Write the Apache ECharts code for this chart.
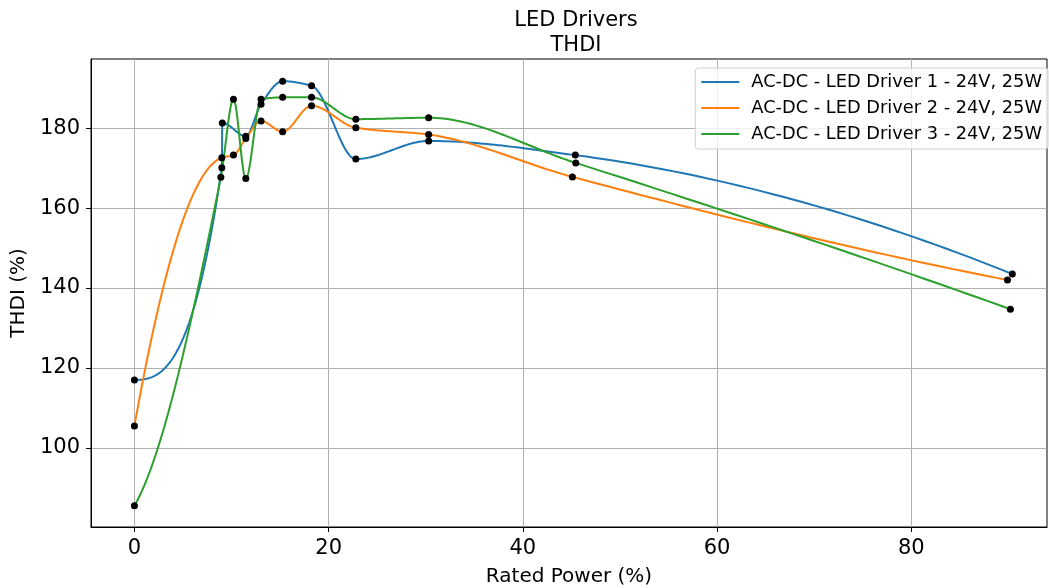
<!DOCTYPE html>
<html>
<head>
<meta charset="utf-8">
<script src="https://cdn.jsdelivr.net/npm/echarts@6/dist/echarts.min.js"></script>
<style>
  html, body { margin: 0; padding: 0; background: #fff; }
  #chart { width: 1049px; height: 588px; }
</style>
</head>
<body>
<div id="chart"></div>
<script>
// Series names
const seriesNames = [
  'AC-DC - LED Driver 1 - 24V, 25W',
  'AC-DC - LED Driver 2 - 24V, 25W',
  'AC-DC - LED Driver 3 - 24V, 25W'
];

// Rated power (%) for each measurement, per driver
const powerDriver1 = [0, 9.0, 9.05, 11.47, 13.04, 15.26, 18.24, 22.8, 30.3, 45.4, 90.4];
const powerDriver2 = [0, 9.0, 10.2, 11.47, 13.04, 15.26, 18.24, 22.8, 30.3, 45.1, 89.9];
const powerDriver3 = [0, 8.9, 10.2, 11.47, 13.04, 15.26, 18.24, 22.8, 30.3, 45.45, 90.2];

// THDI (%) measured at each point
const thdiDriver1 = [117, 170.1, 181.3, 178.0, 186.0, 191.75, 190.6, 172.25, 176.8, 173.25, 143.5];
const thdiDriver2 = [105.5, 172.6, 173.25, 177.4, 181.8, 179.1, 185.6, 180.1, 178.4, 167.8, 142.0];
const thdiDriver3 = [85.5, 167.7, 187.2, 167.4, 187.2, 187.7, 187.7, 182.25, 182.6, 171.3, 134.7];

// Tick labels
const xTicks = [0, 20, 40, 60, 80];
const yTicks = [100, 120, 140, 160, 180];

const colors = ['#1f77b4', '#ff7f0e', '#2ca02c'];
const powers = [powerDriver1, powerDriver2, powerDriver3];
const thdis = [thdiDriver1, thdiDriver2, thdiDriver3];

const pairs = (xs, ys) => xs.map((x, i) => [x, ys[i]]);

const FONT = 'DejaVu Sans';

// Monotone piecewise cubic Hermite (PCHIP) slopes
function pchipSlopes(x, y) {
  const n = x.length;
  const h = [], m = [];
  for (let i = 0; i < n - 1; i++) {
    h.push(x[i + 1] - x[i]);
    m.push((y[i + 1] - y[i]) / h[i]);
  }
  const d = new Array(n).fill(0);
  for (let k = 1; k < n - 1; k++) {
    const m0 = m[k - 1], m1 = m[k];
    if (m0 === 0 || m1 === 0 || Math.sign(m0) !== Math.sign(m1)) {
      d[k] = 0;
    } else {
      const w1 = 2 * h[k] + h[k - 1];
      const w2 = h[k] + 2 * h[k - 1];
      d[k] = (w1 + w2) / (w1 / m0 + w2 / m1);
    }
  }
  const edge = (h0, h1, m0, m1) => {
    let e = ((2 * h0 + h1) * m0 - h0 * m1) / (h0 + h1);
    if (Math.sign(e) !== Math.sign(m0)) e = 0;
    else if (Math.sign(m0) !== Math.sign(m1) && Math.abs(e) > 3 * Math.abs(m0)) e = 3 * m0;
    return e;
  };
  d[0] = edge(h[0], h[1], m[0], m[1]);
  d[n - 1] = edge(h[n - 2], h[n - 3], m[n - 2], m[n - 3]);
  return d;
}

function hermite(x, y, d, i, s) {
  const h = x[i + 1] - x[i];
  const t = (s - x[i]) / h;
  const t2 = t * t, t3 = t2 * t;
  return (2 * t3 - 3 * t2 + 1) * y[i] + (t3 - 2 * t2 + t) * h * d[i] +
    (-2 * t3 + 3 * t2) * y[i + 1] + (t3 - t2) * h * d[i + 1];
}

const slopes = powers.map((xs, i) => pchipSlopes(xs, thdis[i]));

// Draws the curve segment that starts at each measurement
function makeRenderer(idx) {
  const xs = powers[idx], ys = thdis[idx], d = slopes[idx];
  return function (params, api) {
    const i = params.dataIndex;
    if (i >= xs.length - 1) return null;
    const pts = [];
    const steps = 40;
    for (let k = 0; k <= steps; k++) {
      const s = xs[i] + (xs[i + 1] - xs[i]) * k / steps;
      pts.push(api.coord([s, hermite(xs, ys, d, i, s)]));
    }
    return {
      type: 'polyline',
      shape: { points: pts },
      style: { stroke: colors[idx], lineWidth: 2, fill: null, lineJoin: 'round', lineCap: 'round' }
    };
  };
}

const curveSeries = seriesNames.map((name, i) => ({
  name: name,
  type: 'custom',
  data: pairs(powers[i], thdis[i]),
  encode: { x: 0, y: 1 },
  renderItem: makeRenderer(i),
  itemStyle: { color: colors[i] },
  clip: true,
  z: 2,
  silent: true
}));

const dotSeries = seriesNames.map((name, i) => ({
  name: name + ' points',
  type: 'scatter',
  data: pairs(powers[i], thdis[i]),
  symbol: 'circle',
  symbolSize: 7,
  itemStyle: { color: '#000', opacity: 1 },
  z: 5,
  silent: true
}));

const chart = echarts.init(document.getElementById('chart'), null, { renderer: 'canvas' });

chart.setOption({
  animation: false,
  backgroundColor: '#fff',
  title: {
    text: 'LED Drivers\nTHDI',
    left: 571,
    top: 3,
    textAlign: 'center',
    textStyle: {
      fontFamily: FONT,
      fontSize: 21,
      fontWeight: 'normal',
      color: '#000',
      lineHeight: 25
    }
  },
  legend: {
    data: seriesNames,
    orient: 'vertical',
    right: 1,
    top: 68,
    icon: 'rect',
    itemWidth: 38,
    itemHeight: 2,
    itemGap: 6,
    padding: [4, 6, 5, 6],
    borderColor: '#d0d0d0',
    borderWidth: 1,
    borderRadius: 3,
    backgroundColor: 'rgba(255,255,255,0.8)',
    textStyle: {
      fontFamily: FONT,
      fontSize: 17.8,
      color: '#000',
      lineHeight: 20,
      padding: [0, 0, 0, 7]
    }
  },
  grid: {
    left: 91,
    right: 2,
    top: 59,
    bottom: 61,
    show: true,
    borderColor: '#000',
    borderWidth: 1,
    containLabel: false,
    outerBoundsMode: 'none'
  },
  xAxis: {
    type: 'value',
    min: -4.47,
    max: 93.97,
    name: 'Rated Power (%)',
    nameLocation: 'middle',
    nameGap: 40,
    nameTextStyle: { fontFamily: FONT, fontSize: 20, color: '#000' },
    axisLine: { show: true, onZero: false, lineStyle: { color: '#000', width: 1 } },
    axisTick: { show: true, length: 5, lineStyle: { color: '#000' }, customValues: xTicks },
    axisLabel: {
      customValues: xTicks,
      margin: 11,
      fontFamily: FONT,
      fontSize: 21,
      color: '#000'
    },
    splitLine: { show: true, lineStyle: { color: '#b0b0b0', width: 1 } }
  },
  yAxis: {
    type: 'value',
    min: 80.2,
    max: 197.3,
    name: 'THDI (%)',
    nameLocation: 'middle',
    nameGap: 50,
    nameTextStyle: { fontFamily: FONT, fontSize: 20, color: '#000' },
    axisLine: { show: true, onZero: false, lineStyle: { color: '#000', width: 1 } },
    axisTick: { show: true, length: 5, lineStyle: { color: '#000' }, customValues: yTicks },
    axisLabel: {
      customValues: yTicks,
      margin: 11,
      fontFamily: FONT,
      fontSize: 21,
      color: '#000'
    },
    splitLine: { show: true, lineStyle: { color: '#b0b0b0', width: 1 } }
  },
  series: curveSeries.concat(dotSeries)
});
</script>
</body>
</html>
